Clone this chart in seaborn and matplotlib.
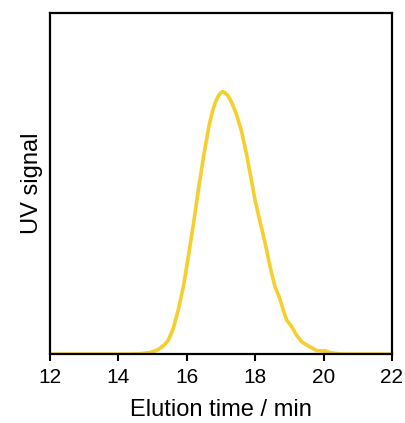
import matplotlib
matplotlib.use("Agg")
import matplotlib.pyplot as plt
import seaborn as sns
import pandas as pd

# Elution time (min) and normalized UV signal
elution_time = [12.0, 13.0, 14.0, 14.3, 14.6, 14.9, 15.1, 15.22, 15.35, 15.46,
                15.6, 15.75, 15.9, 16.05, 16.2, 16.35, 16.5, 16.65, 16.75, 16.85,
                16.95, 17.0, 17.05, 17.1, 17.2, 17.3, 17.45, 17.6, 17.75, 17.9,
                18.0, 18.15, 18.3, 18.45, 18.58, 18.72, 18.82, 18.92, 19.07, 19.21,
                19.36, 19.5, 19.65, 19.8, 19.95, 20.05, 20.2, 20.5, 21.0, 22.0]
uv_signal = [0.0, 0.0, 0.0, 0.0, 0.001, 0.005, 0.013, 0.022, 0.036, 0.053,
             0.095, 0.168, 0.257, 0.375, 0.50, 0.635, 0.76, 0.87, 0.925, 0.965,
             0.99, 0.997, 1.0, 0.998, 0.986, 0.963, 0.915, 0.85, 0.76, 0.655,
             0.585, 0.50, 0.418, 0.325, 0.257, 0.212, 0.168, 0.130, 0.104, 0.072,
             0.047, 0.035, 0.024, 0.013, 0.012, 0.012, 0.005, 0.0, 0.0, 0.0]
x_ticks = [12, 14, 16, 18, 20, 22]

df = pd.DataFrame({"time": elution_time, "uv": uv_signal})

sns.set_style("ticks")
plt.rcParams["font.family"] = ["Liberation Sans", "DejaVu Sans"]
plt.rcParams["text.color"] = "black"
plt.rcParams["axes.labelcolor"] = "black"
plt.rcParams["xtick.color"] = "black"
plt.rcParams["ytick.color"] = "black"

fig = plt.figure(figsize=(4.06, 4.23), dpi=100)
ax = fig.add_axes([0.123, 0.163, 0.8425, 0.806])
sns.lineplot(data=df, x="time", y="uv", ax=ax, color="#F4CF2E", linewidth=2.6)

ax.set_xlim(12, 22)
ax.set_ylim(0, 1.3)
ax.set_xticks(x_ticks)
ax.set_xticklabels([str(t) for t in x_ticks])
ax.set_yticks([])
ax.tick_params(axis="x", direction="out", length=5, width=1.5, labelsize=15,
               pad=5, color="black", labelcolor="black")
for s in ax.spines.values():
    s.set_linewidth(1.6)
    s.set_color("black")
    s.set_visible(True)
ax.set_xlabel("Elution time / min", fontsize=17, labelpad=9)
ax.set_ylabel("UV signal", fontsize=17, labelpad=5)

fig.savefig("out.png", dpi=100)
